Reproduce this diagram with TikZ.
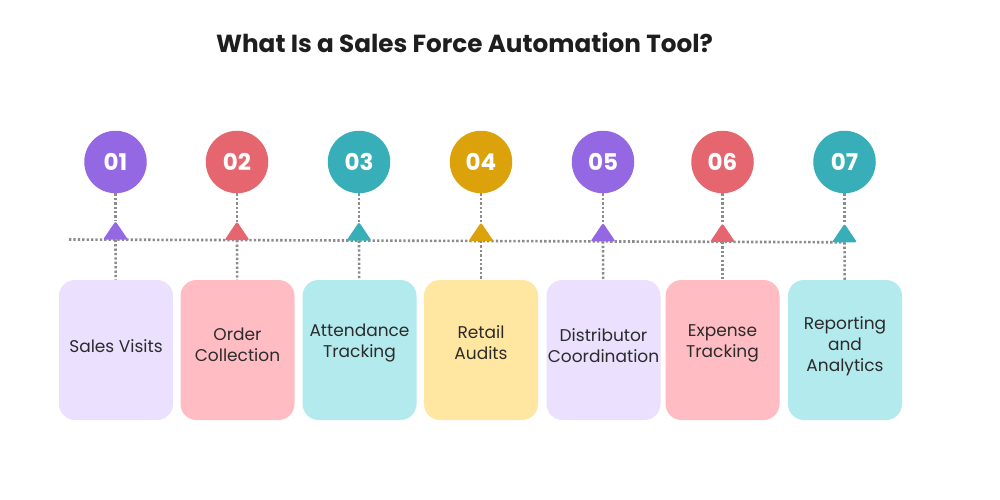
\documentclass[tikz,border=0pt]{standalone}
\usepackage{fontspec}
\setmainfont{Poppins}
\usepackage{xcolor}
\definecolor{purpleink}{HTML}{9468E3}
\definecolor{coralink}{HTML}{E5666F}
\definecolor{tealink}{HTML}{38AFB8}
\definecolor{goldink}{HTML}{DBA20C}
\definecolor{purplewash}{HTML}{EBE0FE}
\definecolor{coralwash}{HTML}{FFBDC3}
\definecolor{tealwash}{HTML}{B3EAEE}
\definecolor{goldwash}{HTML}{FFE6A1}
\definecolor{dotgray}{HTML}{8C8C8C}
\definecolor{inkgray}{HTML}{2B2B2B}

\begin{document}
\begin{tikzpicture}[x=1pt,y=-1pt,line join=round,
  dotline/.style={draw=dotgray,line width=2.6pt,dash pattern=on 2.3pt off 2.1pt},
  badge/.style={circle,fill=#1,minimum size=62.5pt,inner sep=0pt,text=white,font=\fontsize{23}{23}\selectfont\bfseries},
  card/.style={rounded corners=16pt,fill=#1,minimum width=114pt,minimum height=140pt,inner sep=0pt},
  cardtext/.style={align=center,text=inkgray,font=\fontsize{17}{21}\selectfont},
  tip/.style={fill=#1,rounded corners=2pt}]
  \useasboundingbox[fill=white] (0,0) rectangle (1000,500);
  % title
  \node[anchor=base,text=inkgray!70!black,font=\fontsize{24.7}{25}\selectfont\bfseries] (title) at (464.5,53) {What Is a Sales Force Automation Tool?};
  % badges
  \node[badge=purpleink] (c1) at (115.5,162) {01};
  \node[badge=coralink]  (c2) at (237,162) {02};
  \node[badge=tealink]   (c3) at (359,162) {03};
  \node[badge=goldink]   (c4) at (481,162) {04};
  \node[badge=purpleink] (c5) at (603,162) {05};
  \node[badge=coralink]  (c6) at (722.5,162) {06};
  \node[badge=tealink]   (c7) at (844.5,162) {07};
  % cards
  \node[card=purplewash] (b1) at (116,350) {};
  \node[card=coralwash]  (b2) at (237.5,350) {};
  \node[card=tealwash]   (b3) at (359.5,350) {};
  \node[card=goldwash]   (b4) at (481,350) {};
  \node[card=purplewash] (b5) at (603.5,350) {};
  \node[card=coralwash]  (b6) at (722.5,350) {};
  \node[card=tealwash]   (b7) at (845,350) {};
  \node[cardtext] (l1) at (116,346) {Sales Visits};
  \node[cardtext] (l2) at (237.5,345) {Order\\Collection};
  \node[cardtext] (l3) at (359.5,343) {Attendance\\Tracking};
  \node[cardtext] (l4) at (481,343) {Retail\\Audits};
  \node[cardtext] (l5) at (603.5,346) {Distributor\\Coordination};
  \node[cardtext] (l6) at (722.5,343) {Expense\\Tracking};
  \node[cardtext] (l7) at (845,346) {Reporting\\and\\Analytics};
  % timeline
  \coordinate (lstart) at (69,239.5);
  \coordinate (lend) at (845,242.3);
  \coordinate (f1) at (115.5,239.7);
  \coordinate (f2) at (237,240.1);
  \coordinate (f3) at (359,240.6);
  \coordinate (f4) at (481,241.0);
  \coordinate (f5) at (603,241.4);
  \coordinate (f6) at (722.5,241.9);
  \coordinate (f7) at (844.5,242.3);
  \coordinate (t1) at (115.5,221.2);
  \coordinate (t2) at (237,221.6);
  \coordinate (t3) at (359,222.1);
  \coordinate (t4) at (481,222.5);
  \coordinate (t5) at (603,222.9);
  \coordinate (t6) at (722.5,223.4);
  \coordinate (t7) at (844.5,223.8);
  \draw[dotline] (lstart) -- (lend);
  \draw[dotline] (c1) -- (t1);
  \draw[dotline] (c2) -- (t2);
  \draw[dotline] (c3) -- (t3);
  \draw[dotline] (c4) -- (t4);
  \draw[dotline] (c5) -- (t5);
  \draw[dotline] (c6) -- (t6);
  \draw[dotline] (c7) -- (t7);
  \draw[dotline] (f1) -- (b1);
  \draw[dotline] (f2) -- (b2);
  \draw[dotline] (f3) -- (b3);
  \draw[dotline] (f4) -- (b4);
  \draw[dotline] (f5) -- (b5);
  \draw[dotline] (f6) -- (b6);
  \draw[dotline] (f7) -- (b7);
  % markers
  \fill[tip=purpleink] ([xshift=-12.5pt]f1) -- (t1) -- ([xshift=12.5pt]f1) -- cycle;
  \fill[tip=coralink]  ([xshift=-12.5pt]f2) -- (t2) -- ([xshift=12.5pt]f2) -- cycle;
  \fill[tip=tealink]   ([xshift=-12.5pt]f3) -- (t3) -- ([xshift=12.5pt]f3) -- cycle;
  \fill[tip=goldink]   ([xshift=-12.5pt]f4) -- (t4) -- ([xshift=12.5pt]f4) -- cycle;
  \fill[tip=purpleink] ([xshift=-12.5pt]f5) -- (t5) -- ([xshift=12.5pt]f5) -- cycle;
  \fill[tip=coralink]  ([xshift=-12.5pt]f6) -- (t6) -- ([xshift=12.5pt]f6) -- cycle;
  \fill[tip=tealink]   ([xshift=-12.5pt]f7) -- (t7) -- ([xshift=12.5pt]f7) -- cycle;
\end{tikzpicture}
\end{document}
